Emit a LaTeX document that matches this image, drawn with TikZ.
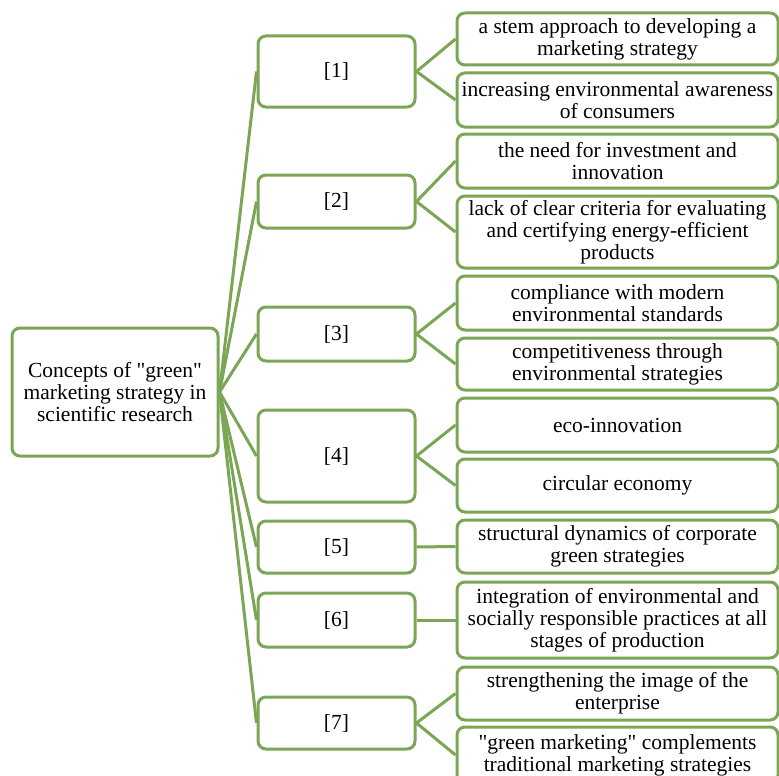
\documentclass[tikz,border=0pt]{standalone}
\usepackage{fontspec}
\setmainfont{Liberation Serif}
\usetikzlibrary{positioning}
\definecolor{leafgreen}{RGB}{122,166,86}

\begin{document}
\begin{tikzpicture}[
  x=1pt, y=-1pt,
  box/.style={draw=leafgreen, line width=3pt, rounded corners=8pt, align=center,
    inner sep=0pt, font=\fontsize{21.5}{22}\selectfont},
  rootbox/.style={box, minimum width=206pt, minimum height=128pt},
  refbox/.style={box, minimum width=157pt},
  ideabox/.style={box, minimum width=321pt},
  link/.style={leafgreen, line width=3pt}
]
\useasboundingbox (0,0) rectangle (779,776);
\node[rootbox] (root) at (115,392) {Concepts of \textquotedbl green\textquotedbl\\marketing strategy in\\scientific research};
% references
\node[refbox, minimum height=71pt] (r1) at (336.5,71.5) {[1]};
\node[refbox, minimum height=53pt] (r2) at (336.5,201.5) {[2]};
\node[refbox, minimum height=54pt] (r3) at (336.5,334) {[3]};
\node[refbox, minimum height=92pt] (r4) at (336.5,456) {[4]};
\node[refbox, minimum height=52pt] (r5) at (336.5,547) {[5]};
\node[refbox, minimum height=54pt] (r6) at (336.5,620) {[6]};
\node[refbox, minimum height=52pt] (r7) at (336.5,723) {[7]};
% concepts
\node[ideabox, minimum height=52pt] (i1a) at (617.5,39) {a stem approach to developing a\\marketing strategy};
\node[ideabox, minimum height=54pt] (i1b) at (617.5,100) {increasing environmental awareness\\of consumers};
\node[ideabox, minimum height=54pt] (i2a) at (617.5,161) {the need for investment and\\innovation};
\node[ideabox, minimum height=72pt] (i2b) at (617.5,232) {lack of clear criteria for evaluating\\and certifying energy-efficient\\products};
\node[ideabox, minimum height=54pt] (i3a) at (617.5,303) {compliance with modern\\environmental standards};
\node[ideabox, minimum height=52pt] (i3b) at (617.5,364) {competitiveness through\\environmental strategies};
\node[ideabox, minimum height=54pt] (i4a) at (617.5,425) {eco-innovation};
\node[ideabox, minimum height=53pt] (i4b) at (617.5,485.5) {circular economy};
\node[ideabox, minimum height=53pt] (i5) at (617.5,546.5) {structural dynamics of corporate\\green strategies};
\node[ideabox, minimum height=76pt] (i6) at (617.5,620) {integration of environmental and\\socially responsible practices at all\\stages of production};
\node[ideabox, minimum height=53pt] (i7a) at (617.5,693.5) {strengthening the image of the\\enterprise};
\node[ideabox, minimum height=56pt] (i7b) at (617.5,755) {\textquotedbl green marketing\textquotedbl{} complements\\traditional marketing strategies};
% links
\draw[link] (root.east) -- (r1.west);
\draw[link] (root.east) -- (r2.west);
\draw[link] (root.east) -- (r3.west);
\draw[link] (root.east) -- (r4.west);
\draw[link] (root.east) -- (r5.west);
\draw[link] (root.east) -- (r6.west);
\draw[link] (root.east) -- (r7.west);
\draw[link] (r1.east) -- (i1a.west);
\draw[link] (r1.east) -- (i1b.west);
\draw[link] (r2.east) -- (i2a.west);
\draw[link] (r2.east) -- (i2b.west);
\draw[link] (r3.east) -- (i3a.west);
\draw[link] (r3.east) -- (i3b.west);
\draw[link] (r4.east) -- (i4a.west);
\draw[link] (r4.east) -- (i4b.west);
\draw[link] (r5.east) -- (i5.west);
\draw[link] (r6.east) -- (i6.west);
\draw[link] (r7.east) -- (i7a.west);
\draw[link] (r7.east) -- (i7b.west);
\end{tikzpicture}
\end{document}
